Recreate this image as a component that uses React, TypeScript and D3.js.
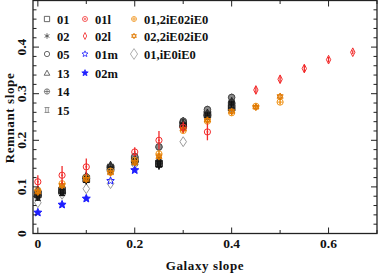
import { useEffect, useRef } from "react";
import * as d3 from "d3";

const W = 378;
const H = 273;
const FRAME = { left: 33, right: 377, top: 0.5, bottom: 233.5 };

// tick labels
const xTicks = [0, 0.2, 0.4, 0.6];
const yTicks = [0, 0.1, 0.2, 0.3, 0.4];

// galaxy slope grid used by the runs
const xBase = [0, 0.05, 0.1, 0.15, 0.2, 0.25, 0.3, 0.35, 0.4];

// black / grey runs
const y01 = [0.084, 0.092, 0.117, 0.14, 0.158, 0.15, 0.233, 0.256, 0.27];
const y02 = [0.08, 0.089, 0.114, 0.145, 0.162, 0.147, 0.24, 0.262, 0.288];
const y05 = [0.09, 0.096, 0.121, 0.138, 0.165, 0.186, 0.241, 0.266, 0.292];
const y13 = [0.087, 0.094, 0.124, 0.147, 0.16, 0.156, 0.236, 0.259, 0.284];
const y14 = [0.082, 0.091, 0.119, 0.143, 0.156, 0.153, 0.238, 0.255, 0.281];
const y15 = [0.078, 0.088, 0.116, 0.136, 0.154, 0.149, 0.23, 0.252, 0.276];
const eBlack = [0.008, 0.008, 0.009, 0.008, 0.009, 0.01, 0.009, 0.008, 0.008];

// red runs
const x01l = [0, 0.05, 0.1, 0.2, 0.25, 0.3, 0.35];
const y01l = [0.111, 0.125, 0.143, 0.175, 0.2, 0.228, 0.218];
const e01l = [0.014, 0.02, 0.018, 0.01, 0.02, 0.012, 0.018];
const x02l = [0.45, 0.5, 0.55, 0.6, 0.65];
const y02l = [0.308, 0.331, 0.354, 0.373, 0.389];
const e02l = [0.008, 0.008, 0.008, 0.006, 0.004];

// blue runs
const x01m = [0.15];
const y01m = [0.113];
const x02m = [0, 0.05, 0.1, 0.2];
const y02m = [0.045, 0.062, 0.075, 0.136];

// orange runs
const xOr = [0, 0.05, 0.1, 0.15, 0.2, 0.25, 0.3, 0.35, 0.4, 0.45, 0.5];
const yOr1 = [0.093, 0.107, 0.12, 0.134, 0.157, 0.171, 0.221, 0.241, 0.259, 0.273, 0.282];
const yOr2 = [0.089, 0.103, 0.116, 0.13, 0.152, 0.165, 0.224, 0.243, 0.262, 0.271, 0.294];
const eOr = [0.006, 0.006, 0.006, 0.006, 0.006, 0.006, 0.006, 0.006, 0.006, 0.004, 0.004];

// grey diamond run
const xIe = [0, 0.05, 0.1, 0.15, 0.2, 0.25, 0.3];
const yIe = [0.066, 0.084, 0.096, 0.107, 0.148, 0.185, 0.197];

const RED = "#f22a2a";
const BLUE = "#1f1fff";
const ORANGE = "#f0961e";
const ORANGE2 = "#e07800";
const GREY = "#9a9a9a";

const star = (r: number) => {
  const pts: string[] = [];
  for (let i = 0; i < 10; i++) {
    const a = -Math.PI / 2 + (i * Math.PI) / 5;
    const rr = i % 2 === 0 ? r : r * 0.45;
    pts.push(`${(rr * Math.cos(a)).toFixed(2)},${(rr * Math.sin(a)).toFixed(2)}`);
  }
  return "M" + pts.join("L") + "Z";
};

const SYM: Record<string, (s: number) => string> = {
  square: (s) => `M${-s},${-s}H${s}V${s}H${-s}Z`,
  asterisk: (s) =>
    `M0,${-s}V${s}M${-s * 0.87},${-s / 2}L${s * 0.87},${s / 2}M${-s * 0.87},${s / 2}L${s * 0.87},${-s / 2}`,
  circle: (s) => `M${s},0A${s},${s} 0 1,1 ${-s},0A${s},${s} 0 1,1 ${s},0Z`,
  triangle: (s) => `M0,${-s}L${s},${s * 0.8}L${-s},${s * 0.8}Z`,
  circplus: (s) =>
    `M${s},0A${s},${s} 0 1,1 ${-s},0A${s},${s} 0 1,1 ${s},0ZM${-s},0H${s}M0,${-s}V${s}`,
  ibeam: (s) => `M${-s},${-s}H${s}M${-s},${s}H${s}M${-s / 2},${-s}V${s}M${s / 2},${-s}V${s}`,
  dotcircle: (s) =>
    `M${s},0A${s},${s} 0 1,1 ${-s},0A${s},${s} 0 1,1 ${s},0ZM0.6,0A0.6,0.6 0 1,1 -0.6,0A0.6,0.6 0 1,1 0.6,0Z`,
  diamond: (s) => `M0,${-s * 1.4}L${s * 0.7},0L0,${s * 1.4}L${-s * 0.7},0Z`,
  star: (s) => star(s * 1.2),
  david: (s) =>
    `M0,${-s}L${s * 0.87},${s / 2}L${-s * 0.87},${s / 2}ZM0,${s}L${s * 0.87},${-s / 2}L${-s * 0.87},${-s / 2}Z`,
  wideDiamond: (s) => `M0,${-s * 1.5}L${s},0L0,${s * 1.5}L${-s},0Z`,
};

type Series = {
  name: string;
  xs: number[];
  ys: number[];
  err?: number[];
  sym: string;
  color: string;
  fill: string;
  size: number;
  lx: number;
  ly: number;
  legendFill?: string;
  legendColor?: string;
  legendSize?: number;
};

const series: Series[] = [
  { name: "01,iE0iE0", xs: xIe, ys: yIe, sym: "wideDiamond", color: GREY, fill: "none", size: 3.3, lx: 134, ly: 54, legendSize: 3.6 },
  { name: "01", xs: xBase, ys: y01, err: eBlack, sym: "square", color: "#111", fill: "#666", size: 3.3, lx: 47, ly: 19, legendFill: "none", legendColor: "#444" },
  { name: "02", xs: xBase, ys: y02, err: eBlack, sym: "asterisk", color: "#111", fill: "none", size: 3.5, lx: 47, ly: 36, legendColor: "#444" },
  { name: "05", xs: xBase, ys: y05, err: eBlack, sym: "circle", color: "#444", fill: "#888", size: 3.3, lx: 47, ly: 54, legendFill: "none", legendColor: "#444" },
  { name: "13", xs: xBase, ys: y13, err: eBlack, sym: "triangle", color: "#222", fill: "#555", size: 3.5, lx: 47, ly: 73, legendFill: "none", legendColor: "#444" },
  { name: "14", xs: xBase, ys: y14, err: eBlack, sym: "circplus", color: "#333", fill: "none", size: 3.3, lx: 47, ly: 91.5, legendColor: "#666" },
  { name: "15", xs: xBase, ys: y15, err: eBlack, sym: "ibeam", color: "#111", fill: "none", size: 3.1, lx: 47, ly: 110, legendColor: "#777" },
  { name: "01m", xs: x01m, ys: y01m, sym: "star", color: BLUE, fill: "none", size: 3.3, lx: 85, ly: 54 },
  { name: "02m", xs: x02m, ys: y02m, sym: "star", color: BLUE, fill: BLUE, size: 3.5, lx: 85, ly: 73 },
  { name: "01,2iE02iE0", xs: xOr, ys: yOr1, err: eOr, sym: "circplus", color: ORANGE, fill: "none", size: 3.1, lx: 134, ly: 19 },
  { name: "02,2iE02iE0", xs: xOr, ys: yOr2, err: eOr, sym: "david", color: ORANGE2, fill: "none", size: 3.5, lx: 134, ly: 36 },
  { name: "01l", xs: x01l, ys: y01l, err: e01l, sym: "dotcircle", color: RED, fill: "none", size: 3.1, lx: 85, ly: 19 },
  { name: "02l", xs: x02l, ys: y02l, err: e02l, sym: "diamond", color: RED, fill: "none", size: 3.1, lx: 85, ly: 36 },
];

export default function App() {
  const ref = useRef<SVGSVGElement>(null);

  useEffect(() => {
    const svg = d3.select(ref.current);
    svg.selectAll("*").remove();

    const x = d3.scaleLinear().domain([-0.01, 0.7]).range([FRAME.left, FRAME.right]);
    const y = d3.scaleLinear().domain([0, 0.5]).range([FRAME.bottom, FRAME.top]);

    // data
    series.forEach((s) => {
      const g = svg.append("g");
      s.xs.forEach((xv, i) => {
        const cx = x(xv);
        const cy = y(s.ys[i]);
        if (s.err) {
          g.append("line")
            .attr("x1", cx)
            .attr("x2", cx)
            .attr("y1", y(s.ys[i] - s.err[i]))
            .attr("y2", y(s.ys[i] + s.err[i]))
            .attr("stroke", s.color)
            .attr("stroke-width", 1.3);
        }
        g.append("path")
          .attr("d", SYM[s.sym](s.size))
          .attr("transform", `translate(${cx},${cy})`)
          .attr("fill", s.fill)
          .attr("stroke", s.color)
          .attr("stroke-width", 1);
      });
    });

    // legend
    series.forEach((s) => {
      const c = s.legendColor ?? s.color;
      svg
        .append("path")
        .attr("d", SYM[s.sym](s.legendSize ?? s.size * 0.8))
        .attr("transform", `translate(${s.lx},${s.ly})`)
        .attr("fill", s.legendFill ?? s.fill)
        .attr("stroke", c)
        .attr("stroke-width", 0.8);
      svg
        .append("text")
        .attr("x", s.lx + 10)
        .attr("y", s.ly + 4.5)
        .attr("font-family", "Liberation Serif")
        .attr("font-weight", "bold")
        .attr("font-size", 12.5)
        .attr("fill", "#111")
        .text(s.name);
    });

    // frame and inward ticks
    const axes = svg.append("g").attr("stroke", "#222").attr("stroke-width", 1);
    axes
      .append("rect")
      .attr("x", FRAME.left)
      .attr("y", FRAME.top)
      .attr("width", FRAME.right - FRAME.left)
      .attr("height", FRAME.bottom - FRAME.top)
      .attr("fill", "none")
      .attr("stroke-width", 1.3);

    const xMinor = d3.range(0, 0.71, 0.1);
    xMinor.forEach((v) => {
      const major = Math.abs(Math.round(v * 10) % 2) === 0;
      const len = major ? 6 : 3.5;
      axes.append("line").attr("x1", x(v)).attr("x2", x(v)).attr("y1", FRAME.bottom).attr("y2", FRAME.bottom - len);
      axes.append("line").attr("x1", x(v)).attr("x2", x(v)).attr("y1", FRAME.top).attr("y2", FRAME.top + len);
    });
    const yMinor = d3.range(0, 0.501, 0.02);
    yMinor.forEach((v) => {
      const major = Math.round(v * 50) % 5 === 0;
      const len = major ? 6 : 3.5;
      axes.append("line").attr("y1", y(v)).attr("y2", y(v)).attr("x1", FRAME.left).attr("x2", FRAME.left + len);
      axes.append("line").attr("y1", y(v)).attr("y2", y(v)).attr("x1", FRAME.right).attr("x2", FRAME.right - len);
    });

    const fmt = (v: number) => (v === 0 ? "0" : d3.format(".1f")(v));
    xTicks.forEach((v) => {
      svg
        .append("text")
        .attr("x", x(v))
        .attr("y", 248)
        .attr("text-anchor", "middle")
        .attr("font-family", "Liberation Serif")
        .attr("font-weight", "bold")
        .attr("font-size", 13.5)
        .attr("fill", "#111")
        .text(fmt(v));
    });
    yTicks.forEach((v) => {
      svg
        .append("text")
        .attr("transform", `translate(26,${y(v)}) rotate(-90)`)
        .attr("text-anchor", "middle")
        .attr("font-family", "Liberation Serif")
        .attr("font-weight", "bold")
        .attr("font-size", 13.5)
        .attr("fill", "#111")
        .text(fmt(v));
    });

    svg
      .append("text")
      .attr("x", 205)
      .attr("y", 270)
      .attr("text-anchor", "middle")
      .attr("font-family", "Liberation Serif")
      .attr("font-weight", "bold")
      .attr("font-size", 13)
      .attr("letter-spacing", 0.6)
      .attr("fill", "#111")
      .text("Galaxy slope");
    svg
      .append("text")
      .attr("transform", `translate(14,118) rotate(-90)`)
      .attr("text-anchor", "middle")
      .attr("font-family", "Liberation Serif")
      .attr("font-weight", "bold")
      .attr("font-size", 13)
      .attr("letter-spacing", 0.6)
      .attr("fill", "#111")
      .text("Remnant slope");
  }, []);

  return (
    <svg
      ref={ref}
      width={W}
      height={H}
      style={{ position: "absolute", left: 0, top: 0, background: "#fff" }}
    />
  );
}
